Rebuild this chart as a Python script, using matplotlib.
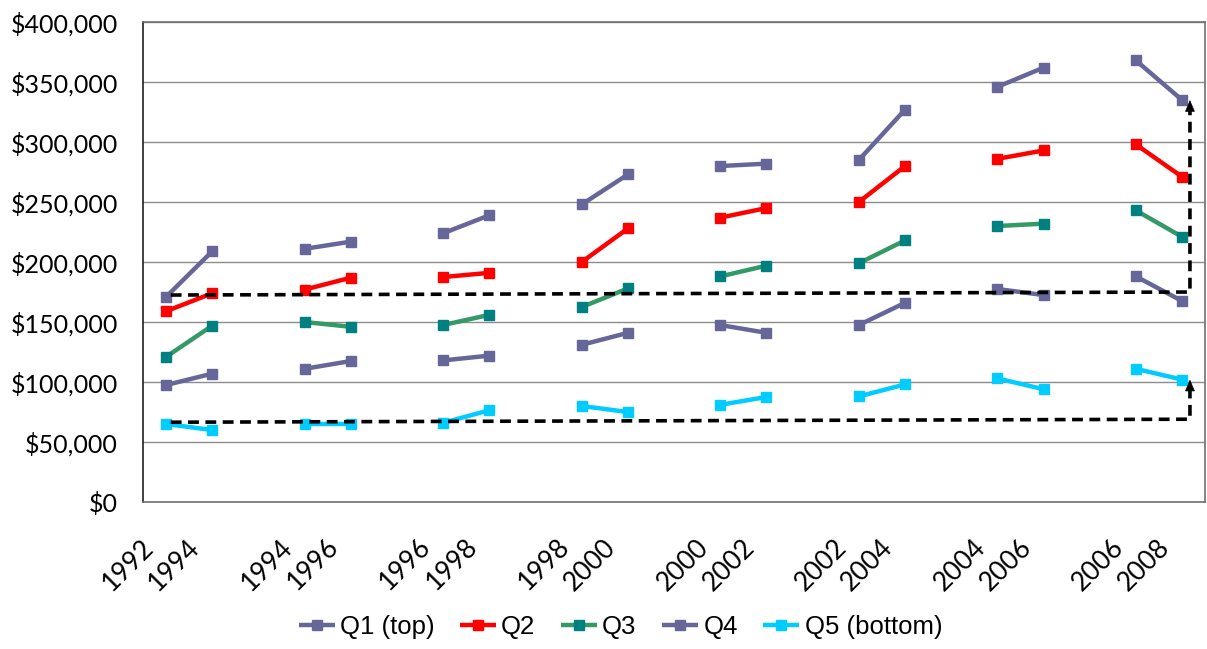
import numpy as np
import matplotlib
matplotlib.use('Agg')
import matplotlib.pyplot as plt
from matplotlib.ticker import FuncFormatter
from matplotlib.transforms import ScaledTranslation

# Each block is a pair of years (start, end) of one 2-year panel
year_labels = ['1992', '1994', '1994', '1996', '1996', '1998', '1998', '2000',
               '2000', '2002', '2002', '2004', '2004', '2006', '2006', '2008']

q1 = [171000, 209000, 211000, 217000, 224000, 239000, 248000, 273000,
      280000, 282000, 285000, 327000, 346000, 362000, 368000, 335000]
q2 = [159000, 174000, 177000, 187000, 187500, 191000, 200000, 228000,
      237000, 245000, 250000, 280000, 286000, 293000, 298000, 271000]
q3 = [121000, 147000, 150000, 146000, 147500, 156000, 162500, 178000,
      188000, 197000, 199000, 218000, 230000, 232000, 243000, 221000]
q4 = [97500, 107000, 111000, 117500, 118000, 122000, 131000, 141000,
      147500, 141000, 147500, 166000, 177500, 172500, 188000, 167500]
q5 = [65000, 60000, 65000, 65000, 66000, 76500, 80000, 75000,
      81000, 87500, 88000, 98000, 103000, 94000, 111000, 102000]

# dashed reference lines: start level, end level, arrow target
top_ref = [172500, 175000, 335000]
bot_ref = [66500, 69000, 102000]

series = [
    ('Q1 (top)', q1, '#666699', '#666699'),
    ('Q2', q2, '#FF0000', '#FF0000'),
    ('Q3', q3, '#339966', '#008080'),
    ('Q4', q4, '#666699', '#666699'),
    ('Q5 (bottom)', q5, '#00CCFF', '#00CCFF'),
]

n_pairs = len(year_labels) // 2
pos = np.array([3 * p + k for p in range(n_pairs) for k in (0, 1)], dtype=float)

fig = plt.figure(figsize=(12.07, 6.49), dpi=100)
ax = fig.add_axes([0.1185, 0.2265, 0.88, 0.7395])

for name, vals, lc, mc in series:
    vals = np.asarray(vals, dtype=float)
    first = True
    for p in range(n_pairs):
        sl = slice(2 * p, 2 * p + 2)
        ax.plot(pos[sl], vals[sl], color=lc, lw=3.2, marker='s', markersize=7.5,
                markerfacecolor=mc, markeredgecolor=mc, solid_capstyle='butt',
                label=name if first else None, zorder=3)
        first = False

# dashed arrows
x0, x1 = pos[0] + 0.1, pos[-1] + 0.17
for ref in (top_ref, bot_ref):
    ax.plot([x0, x1, x1], [ref[0], ref[1], ref[2] - 9000], color='black', lw=2.6,
            linestyle=(0, (3.0, 1.8)), zorder=4)
    ax.annotate('', xy=(x1, ref[2]), xytext=(x1, ref[2] - 10000),
                arrowprops=dict(arrowstyle='-|>,head_length=0.75,head_width=0.32',
                                color='black', lw=0.5, shrinkA=0, shrinkB=0),
                zorder=5)

ax.set_xlim(-0.5, 3 * n_pairs - 1 - 0.5)
ax.set_ylim(0, 400000)
ax.set_yticks(np.arange(0, 400001, 50000))
ax.yaxis.set_major_formatter(FuncFormatter(lambda v, _: f'${v:,.0f}'))
ax.grid(axis='y', color='#8C8C8C', lw=1)
ax.set_axisbelow(True)

# rotated year labels under each point
ax.set_xticks(pos)
ax.set_xticklabels([])
ax.tick_params(axis='x', length=0, pad=0)
lab_tr = ax.get_xaxis_transform() + ScaledTranslation(-0.16, -0.41, fig.dpi_scale_trans)
for xp, lab in zip(pos, year_labels):
    ax.text(xp, 0, lab, transform=lab_tr, rotation=45, ha='right', va='center',
            rotation_mode='anchor', fontsize=19, family='Lato')

ax.tick_params(axis='y', length=0, pad=18, labelsize=18)
for lab in ax.get_yticklabels():
    lab.set_family('Lato')

for s in ['top', 'right', 'bottom']:
    ax.spines[s].set_color('#707070')
ax.spines['left'].set_color('#202020')
for s in ax.spines.values():
    s.set_linewidth(1.2)

fig.legend(loc='center', bbox_to_anchor=(0.514, 0.034), ncol=5, frameon=False,
           prop={'family': 'Liberation Sans', 'size': 18.5}, handlelength=1.4,
           handletextpad=0.2, columnspacing=1.0)

fig.savefig('out.png', dpi=100)
